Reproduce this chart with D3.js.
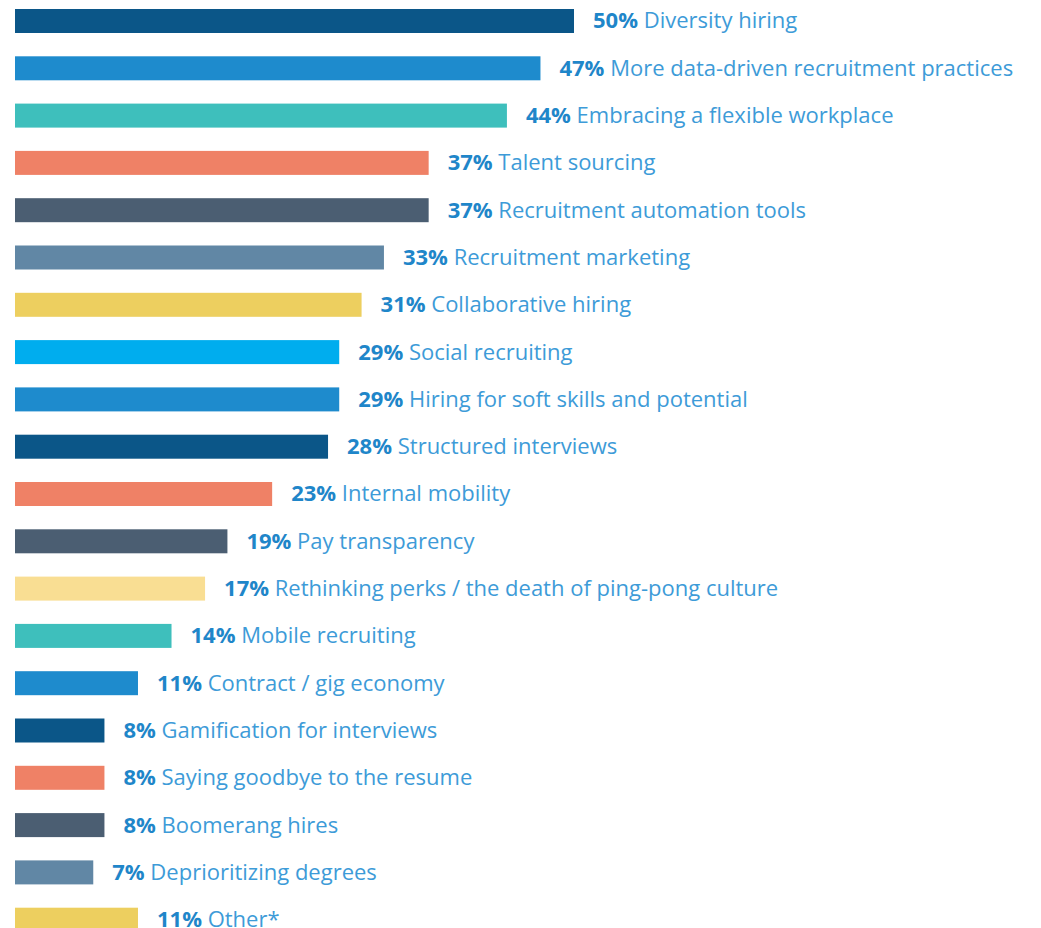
<!DOCTYPE html>
<html>
<head>
<meta charset="utf-8">
<script src="https://cdn.jsdelivr.net/npm/d3@7"></script>
<style>
  html, body { margin: 0; padding: 0; background: #ffffff; overflow: hidden; }
  svg { display: block; }
</style>
</head>
<body>
<div id="chart"></div>
<script>
const categories = [
  "Diversity hiring",
  "More data-driven recruitment practices",
  "Embracing a flexible workplace",
  "Talent sourcing",
  "Recruitment automation tools",
  "Recruitment marketing",
  "Collaborative hiring",
  "Social recruiting",
  "Hiring for soft skills and potential",
  "Structured interviews",
  "Internal mobility",
  "Pay transparency",
  "Rethinking perks / the death of ping-pong culture",
  "Mobile recruiting",
  "Contract / gig economy",
  "Gamification for interviews",
  "Saying goodbye to the resume",
  "Boomerang hires",
  "Deprioritizing degrees",
  "Other*"
];
const values = [50, 47, 44, 37, 37, 33, 31, 29, 29, 28, 23, 19, 17, 14, 11, 8, 8, 8, 7, 11];
const barColors = [
  "#0b5688", "#1e8bcd", "#3ebfbc", "#ef8166", "#4b5e72",
  "#6187a5", "#edcf5f", "#00adee", "#1e8bcd", "#0b5688",
  "#ef8166", "#4b5e72", "#f9de93", "#3ebfbc", "#1e8bcd",
  "#0b5688", "#ef8166", "#4b5e72", "#6187a5", "#edcf5f"
];

const W = 1041, H = 928;
const svg = d3.select("#chart").append("svg").attr("width", W).attr("height", H);

const x = d3.scaleLinear().domain([0, 50]).range([15, 574]);
const y = d3.scaleBand().domain(categories).range([9, 931.7]).paddingInner(0.4926).paddingOuter(0);

const data = categories.map((c, i) => ({ c, v: values[i], col: barColors[i] }));

svg.selectAll("rect.bar").data(data).join("rect")
  .attr("class", "bar")
  .attr("x", x(0))
  .attr("y", d => y(d.c))
  .attr("width", d => x(d.v) - x(0))
  .attr("height", y.bandwidth())
  .attr("fill", d => d.col);

const labels = svg.selectAll("text.lab").data(data).join("text")
  .attr("class", "lab")
  .attr("x", d => x(d.v) + 19)
  .attr("y", d => y(d.c) + y.bandwidth() / 2)
  .attr("dy", "0.34em")
  .style("font-family", "'Open Sans', sans-serif")
  .style("font-size", "22px");

labels.append("tspan")
  .attr("font-weight", 700)
  .attr("fill", "#1f86c9")
  .text(d => d.v + "%");
labels.append("tspan")
  .attr("font-weight", 400)
  .attr("fill", "#3d9bd8")
  .text(d => " " + d.c);
</script>
</body>
</html>
